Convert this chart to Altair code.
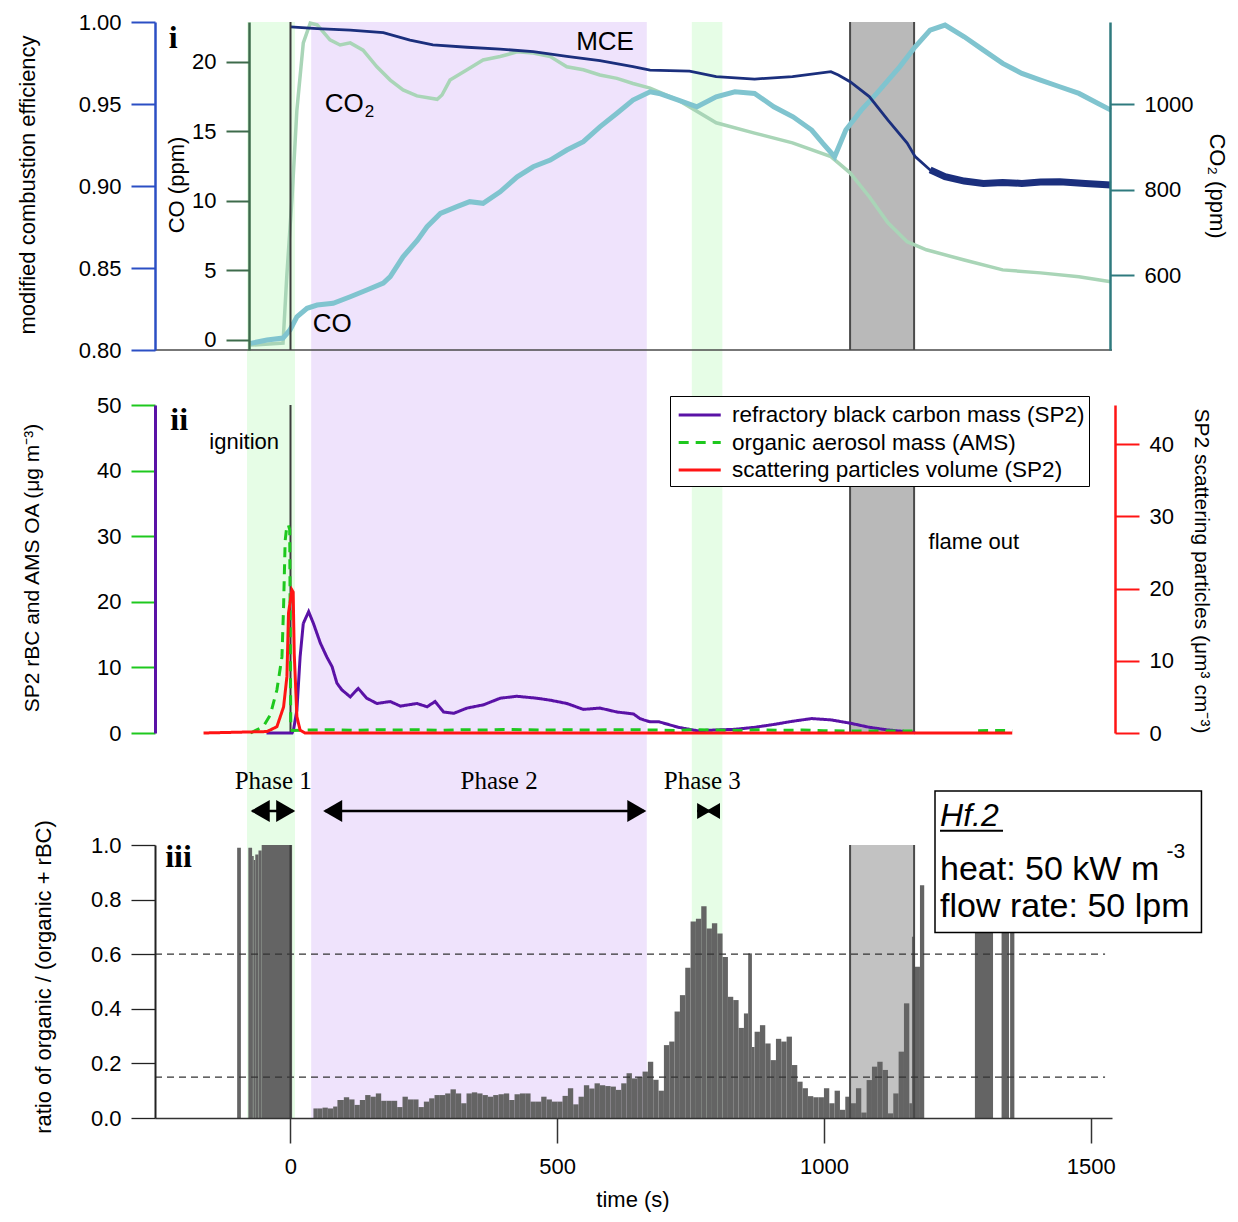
import altair as alt
import pandas as pd

SANS = "Liberation Sans"
SERIF = "Liberation Serif"

# ---------------- data ----------------
T_DOMAIN = [-254, 1540]          # time axis extent (s)
X_TICKS = [0, 500, 1000, 1500]

# panel i : modified combustion efficiency
MCE = [(0, 0.997), (50, 0.996), (112, 0.995), (174, 0.9935), (224, 0.989), (267, 0.986),
       (331, 0.9846), (393, 0.9834), (455, 0.982), (518, 0.979), (580, 0.9764), (642, 0.9728),
       (674, 0.9707), (748, 0.9701), (798, 0.9667), (870, 0.9652), (941, 0.9667), (1013, 0.9697),
       (1027, 0.9677), (1049, 0.9636), (1085, 0.9545), (1120, 0.9402), (1156, 0.9262),
       (1171, 0.9179), (1199, 0.9098), (1227, 0.9057), (1263, 0.9030), (1299, 0.9016),
       (1335, 0.9022), (1371, 0.9016), (1406, 0.9024), (1442, 0.9026), (1490, 0.9015), (1538, 0.9006)]

# panel i : CO2 (ppm, right axis)
CO2 = [(-75, 436), (-14, 441), (-7, 596), (3, 783), (12, 986), (24, 1143), (37, 1189), (50, 1185),
       (74, 1150), (93, 1138), (112, 1143), (136, 1126), (162, 1087), (187, 1056), (211, 1033),
       (237, 1019), (275, 1011), (284, 1021), (299, 1056), (331, 1080), (361, 1103), (393, 1111),
       (425, 1122), (455, 1119), (487, 1111), (518, 1087), (549, 1080), (580, 1068), (612, 1060),
       (642, 1048), (674, 1037), (727, 1009), (798, 956), (870, 932), (941, 909), (1013, 877),
       (1049, 839), (1085, 783), (1120, 722), (1156, 678), (1192, 659), (1263, 635), (1335, 612),
       (1406, 605), (1478, 596), (1538, 584)]

# panel i : CO (ppm, inner axis)
CO = [(-75, -0.24), (-44, 0.0), (-14, 0.14), (-1, 0.72), (12, 1.67), (31, 2.28), (50, 2.51),
      (80, 2.64), (112, 3.11), (143, 3.59), (174, 4.09), (187, 4.55), (211, 5.98), (238, 7.18),
      (256, 8.14), (281, 9.10), (312, 9.58), (336, 9.94), (361, 9.82), (393, 10.65), (425, 11.73),
      (455, 12.45), (487, 12.93), (518, 13.65), (549, 14.25), (580, 15.32), (612, 16.29),
      (642, 17.24), (674, 17.84), (691, 17.72), (727, 17.24), (762, 16.76), (798, 17.48),
      (833, 17.84), (870, 17.72), (906, 16.76), (942, 16.04), (977, 15.09), (998, 14.13),
      (1020, 13.17), (1041, 15.09), (1070, 16.52), (1099, 17.72), (1142, 19.63), (1171, 21.07),
      (1199, 22.27), (1227, 22.63), (1263, 21.79), (1299, 20.83), (1335, 19.88), (1371, 19.16),
      (1406, 18.68), (1442, 18.20), (1478, 17.72), (1514, 17.0), (1538, 16.52)]

# panel ii : refractory black carbon (ug m-3)
RBC = [(-45, 0), (3, 0), (5.6, 0.46), (12, 3.5), (18, 11.6), (24, 16.7), (34, 18.5), (43, 16.7),
       (56, 13.7), (68, 11.6), (78, 10.1), (87, 7.6), (96, 6.6), (112, 5.5), (127, 6.8), (143, 5.3),
       (162, 4.5), (187, 4.8), (206, 4.1), (237, 4.5), (256, 4.0), (271, 4.8), (287, 3.2),
       (306, 3.0), (331, 3.8), (362, 4.3), (393, 5.3), (424, 5.6), (462, 5.3), (487, 5.0),
       (518, 4.5), (549, 3.6), (580, 3.8), (612, 3.2), (643, 2.9), (655, 2.2), (662, 2.0),
       (674, 1.7), (691, 1.7), (727, 0.87), (762, 0.35), (798, 0.46), (833, 0.56), (870, 0.87),
       (906, 1.3), (942, 1.8), (977, 2.2), (1013, 2.0), (1049, 1.5), (1085, 0.87), (1120, 0.46),
       (1156, 0.2), (1171, 0.05)]

# panel ii : organic aerosol (ug m-3), two recorded stretches
OA_1 = [(-75, 0.0), (-51, 0.96), (-38, 2.74), (-25.5, 6.55), (-16, 11.6), (-13, 19.2), (-10, 29.3),
        (-6.7, 31.7), (-4, 31.7), (-1.5, 31.0), (0.5, 1.0), (3, 0.4), (40, 0.45), (80, 0.5),
        (120, 0.4), (160, 0.5), (200, 0.45), (240, 0.5), (280, 0.4), (320, 0.5), (360, 0.45),
        (400, 0.55), (440, 0.5), (480, 0.45), (520, 0.5), (560, 0.45), (600, 0.5), (640, 0.5),
        (680, 0.45), (720, 0.4), (760, 0.5), (800, 0.45), (840, 0.4), (880, 0.5), (920, 0.4),
        (960, 0.45), (1000, 0.35), (1040, 0.3), (1080, 0.3), (1120, 0.3), (1170, 0.3)]
OA_2 = [(1289, 0.35), (1320, 0.4), (1353, 0.35)]

# panel ii : scattering particle volume (um3 cm-3, right axis)
SCAT = [(-163, 0.0), (-44, 0.2), (-25.5, 0.87), (-13, 3.6), (-6.7, 7.8), (-3.7, 16.6), (2.6, 19.8),
        (5, 19.5), (7, 11.0), (12, 2.25), (18, 0.4), (27, 0.0), (1353, 0.0)]

# panel iii : ratio organic / (organic + rBC)   (start s, end s, ratio)
BARS = [(-100, -93, 0.99), (-79, -72, 0.99), (-72, -69, 0.96), (-69, -66, 0.945), (-66, -60, 0.965),
        (-60, -54, 0.98), (-54, 3, 1.0),
        (43, 50, 0.035), (50, 60, 0.035), (60, 70, 0.038), (70, 80, 0.035), (80, 88, 0.042),
        (88, 100, 0.066), (100, 110, 0.076), (110, 120, 0.068), (120, 130, 0.048), (130, 140, 0.066),
        (140, 150, 0.084), (150, 160, 0.078), (160, 170, 0.09), (170, 180, 0.063), (180, 190, 0.063),
        (190, 200, 0.063), (200, 210, 0.04), (210, 220, 0.078), (220, 230, 0.068), (230, 240, 0.068),
        (240, 250, 0.04), (250, 260, 0.06), (260, 270, 0.072), (270, 280, 0.084), (280, 290, 0.084),
        (290, 300, 0.09), (300, 310, 0.105), (310, 320, 0.09), (320, 330, 0.054), (330, 340, 0.09),
        (340, 350, 0.094), (350, 360, 0.09), (360, 370, 0.084), (370, 380, 0.078), (380, 390, 0.084),
        (390, 400, 0.087), (400, 410, 0.09), (410, 420, 0.066), (420, 430, 0.087), (430, 440, 0.09),
        (440, 450, 0.09), (450, 460, 0.06), (460, 470, 0.06), (470, 480, 0.078), (480, 490, 0.068),
        (490, 500, 0.06), (500, 510, 0.06), (510, 520, 0.081), (520, 530, 0.109), (530, 540, 0.05),
        (540, 550, 0.078), (550, 560, 0.12), (560, 570, 0.108), (570, 580, 0.127), (580, 590, 0.12),
        (590, 600, 0.117), (600, 610, 0.115), (610, 620, 0.103), (620, 630, 0.127), (630, 640, 0.164),
        (640, 650, 0.145), (650, 660, 0.15), (660, 670, 0.17), (670, 680, 0.206), (680, 690, 0.14),
        (690, 700, 0.10), (700, 710, 0.267), (710, 720, 0.28), (720, 730, 0.39), (730, 740, 0.45),
        (740, 750, 0.55), (750, 760, 0.72), (760, 770, 0.73), (770, 780, 0.776), (780, 790, 0.694),
        (790, 800, 0.713), (800, 810, 0.676), (810, 820, 0.59), (820, 830, 0.444), (830, 840, 0.432),
        (840, 850, 0.33), (850, 858, 0.383), (858, 865, 0.603), (865, 870, 0.26), (870, 880, 0.316),
        (880, 890, 0.34), (890, 900, 0.273), (900, 910, 0.212), (910, 920, 0.29), (920, 930, 0.28),
        (930, 940, 0.298), (940, 950, 0.194), (950, 960, 0.133), (960, 970, 0.109), (970, 980, 0.08),
        (980, 990, 0.076), (990, 1000, 0.076), (1000, 1010, 0.109), (1010, 1020, 0.054),
        (1020, 1030, 0.1), (1030, 1040, 0.03), (1040, 1050, 0.078), (1050, 1060, 0.054),
        (1060, 1070, 0.109), (1070, 1080, 0.02), (1080, 1090, 0.139), (1090, 1100, 0.188),
        (1100, 1110, 0.206), (1110, 1120, 0.176), (1120, 1130, 0.017), (1130, 1140, 0.09),
        (1140, 1150, 0.243), (1150, 1160, 0.42), (1160, 1165, 0.054), (1165, 1170, 0.664),
        (1170, 1180, 0.554), (1180, 1188, 0.853),
        (1283, 1317, 1.0), (1333, 1347, 1.0), (1349, 1357, 1.0)]
REF_LINES = [0.6, 0.15]

# shaded periods (s)
GREEN_BANDS = [(-81.5, 8.5), (752.3, 809.6)]
PURPLE_BANDS = [(38.8, 667.9)]
FLAME_OUT = (1049, 1169)
IGNITION = 0

LEG_NAMES = ["refractory black carbon mass (SP2)", "organic aerosol mass (AMS)",
             "scattering particles volume (SP2)"]
LEG_COLORS = ["#5a12a6", "#1ec81e", "#ff1414"]

# ---------------- scales ----------------
xs = alt.Scale(domain=T_DOMAIN, nice=False, zero=False)


def ysc(lo, hi, r0, r1):
    return alt.Scale(domain=[lo, hi], range=[r0, r1], nice=False, zero=False)


S_MCE = ysc(0.8, 1.0, 328, 0)
S_CO = ysc(-0.719, 22.853, 328, 0)
S_CO2 = ysc(424.6, 1191.8, 328, 0)
S_L2 = ysc(0, 50, 711, 383)
S_R2 = ysc(0, 45.4, 711, 383)
S_R3 = ysc(0, 1, 1096, 823)


def yaxis(orient, values, fmt, dom_color, tick_color, offset=0, dom_w=2.5, tick_w=2, tick_size=24):
    return alt.Axis(orient=orient, values=values, format=fmt, offset=offset, title=None, grid=False,
                    domainColor=dom_color, domainWidth=dom_w, tickColor=tick_color, tickWidth=tick_w,
                    tickSize=tick_size, labelFont=SANS, labelFontSize=22, labelColor="black",
                    labelPadding=10, labelFlush=False, labelOverlap=False, zindex=1)


AX_MCE = yaxis("left", [0.8, 0.85, 0.9, 0.95, 1.0], ".2f", "#2b4fc4", "#2b4fc4")
AX_CO = yaxis("left", [0, 5, 10, 15, 20], "d", "#3d6b4b", "#3d6b4b", offset=-94, tick_size=23)
AX_CO2 = yaxis("right", [600, 800, 1000], "d", "#2f7a7e", "#2f7a7e", offset=-2)
AX_L2 = yaxis("left", [0, 10, 20, 30, 40, 50], "d", "#5a12a6", "#1ec81e", dom_w=3)
AX_R2 = yaxis("right", [0, 10, 20, 30, 40], "d", "#ff1414", "#ff1414", offset=3)
AX_R3 = yaxis("left", [0, 0.2, 0.4, 0.6, 0.8, 1.0], ".1f", "#222222", "#222222", dom_w=2, tick_w=1.3)
AX_X = alt.Axis(orient="bottom", values=X_TICKS, format="d", title=None, grid=False,
                domainColor="#333333", domainWidth=1.5, tickColor="#333333", tickWidth=1.5,
                tickSize=25, labelFont=SANS, labelFontSize=22, labelColor="black", labelPadding=13,
                labelFlush=False, zindex=1)


def XQ(field):
    # every layer carries the same (shared) time axis so the merged axis is kept
    return alt.X(f"{field}:Q", scale=xs, axis=AX_X)


def YQ(field, scale, axis=None):
    return alt.Y(f"{field}:Q", scale=scale, axis=axis)


def pts(data):
    return pd.DataFrame(data, columns=["t", "v"])


layers = []

# ---- shaded phases spanning all panels ----
layers.append(alt.Chart(pd.DataFrame(GREEN_BANDS, columns=["t0", "t1"]))
              .mark_rect(color="#e6fde6").encode(x=XQ("t0"), x2="t1"))
layers.append(alt.Chart(pd.DataFrame(PURPLE_BANDS, columns=["t0", "t1"]))
              .mark_rect(color="#efe3fc").encode(x=XQ("t0"), x2="t1"))

# ---- flame-out grey bands per panel ----
for scale, lo, hi, fill in [(S_MCE, 0.8, 1.0, "#b9b9b9"), (S_L2, 0, 50, "#b9b9b9"), (S_R3, 0, 1, "#c2c2c2")]:
    gdf = pd.DataFrame({"t0": [FLAME_OUT[0]], "t1": [FLAME_OUT[1]], "lo": [lo], "hi": [hi]})
    layers.append(alt.Chart(gdf).mark_rect(color=fill).encode(
        x=XQ("t0"), x2="t1", y=YQ("lo", scale), y2="hi"))

# ---- panel iii bars ----
bdf = pd.DataFrame(BARS, columns=["t0", "t1", "r"])
layers.append(alt.Chart(bdf).mark_rect(color="#646464").encode(
    x=XQ("t0"), x2="t1", y=YQ("r", S_R3, AX_R3), y2=alt.datum(0)))

# grey band edges
for scale, lo, hi in [(S_MCE, 0.8, 1.0), (S_L2, 0, 50), (S_R3, 0, 1)]:
    edf = pd.DataFrame({"t": list(FLAME_OUT), "lo": [lo, lo], "hi": [hi, hi]})
    layers.append(alt.Chart(edf).mark_rule(color="#4a4a4a", strokeWidth=2).encode(
        x=XQ("t"), y=YQ("lo", scale), y2="hi"))

# dashed reference lines in panel iii
rdf = pd.DataFrame({"r": REF_LINES, "t0": [T_DOMAIN[0]] * 2, "t1": [1527, 1527]})
layers.append(alt.Chart(rdf).mark_rule(color="#333333", strokeWidth=1.2, strokeDash=[7, 5]).encode(
    x=XQ("t0"), x2="t1", y=YQ("r", S_R3)))

# ---- panel i lines ----
layers.append(alt.Chart(pts(CO2)).mark_line(color="#a9d5b7", strokeWidth=3.5).encode(
    x=XQ("t"), y=YQ("v", S_CO2, AX_CO2)))
layers.append(alt.Chart(pts(CO)).mark_line(color="#80c4cf", strokeWidth=5).encode(
    x=XQ("t"), y=YQ("v", S_CO, AX_CO)))
layers.append(alt.Chart(pts(MCE)).mark_line(color="#1b2f7d", strokeWidth=2.8).encode(
    x=XQ("t"), y=YQ("v", S_MCE, AX_MCE)))
layers.append(alt.Chart(pts([p for p in MCE if p[0] >= 1199])).mark_line(color="#1b2f7d", strokeWidth=7).encode(
    x=XQ("t"), y=YQ("v", S_MCE)))

# panel i bottom frame line
layers.append(alt.Chart(pd.DataFrame({"t0": [T_DOMAIN[0]], "t1": [T_DOMAIN[1]], "v": [0.8]}))
              .mark_rule(color="#4a4a4a", strokeWidth=1.5).encode(x=XQ("t0"), x2="t1", y=YQ("v", S_MCE)))

# ignition lines
for scale, lo, hi in [(S_MCE, 0.8, 1.0), (S_L2, 0, 50), (S_R3, 0, 1)]:
    idf = pd.DataFrame({"t": [IGNITION], "lo": [lo], "hi": [hi]})
    layers.append(alt.Chart(idf).mark_rule(color="#3c3c3c", strokeWidth=2).encode(
        x=XQ("t"), y=YQ("lo", scale), y2="hi"))

# ---- panel ii lines with legend ----
cscale = alt.Scale(domain=LEG_NAMES, range=LEG_COLORS)
dscale = alt.Scale(domain=LEG_NAMES, range=[[1, 0], [10, 7], [1, 0]])
LEG = alt.Legend(orient="none", legendX=515, legendY=374, title=None, fillColor="white",
                 strokeColor="black", padding=4, labelFont=SANS, labelFontSize=22.5, labelColor="black",
                 labelOffset=28, symbolType="M-0.78,0L2.4,0", symbolSize=700, symbolStrokeWidth=3,
                 rowPadding=0.5, labelLimit=600, zindex=1)


def series(data, name, scale, axis=None):
    df = pts(data)
    df["series"] = name
    return alt.Chart(df).mark_line(strokeWidth=3).encode(
        x=XQ("t"), y=YQ("v", scale, axis),
        color=alt.Color("series:N", scale=cscale, legend=LEG),
        strokeDash=alt.StrokeDash("series:N", scale=dscale, legend=LEG))


layers.append(series(RBC, LEG_NAMES[0], S_L2, AX_L2))
oa_df = pd.concat([pts(OA_1).assign(seg="a"), pts(OA_2).assign(seg="b")], ignore_index=True)
oa_df["series"] = LEG_NAMES[1]
layers.append(alt.Chart(oa_df).mark_line(strokeWidth=3).encode(
    x=XQ("t"), y=YQ("v", S_L2), detail="seg:N",
    color=alt.Color("series:N", scale=cscale, legend=LEG),
    strokeDash=alt.StrokeDash("series:N", scale=dscale, legend=LEG)))
layers.append(series(SCAT, LEG_NAMES[2], S_R2, AX_R2))


# ---- text annotations (data coordinates) ----
def label(rows, scale, **kw):
    df = pd.DataFrame(rows, columns=["t", "v", "label"])
    base = dict(align="center", baseline="middle", color="black")
    base.update(kw)
    return alt.Chart(df).mark_text(**base).encode(x=XQ("t"), y=YQ("v", scale), text="label:N")


layers.append(label([(-219.8, 0.9905, "i")], S_MCE, font=SERIF, fontSize=32, fontWeight="bold"))
layers.append(label([(-208.6, 47.7, "ii")], S_L2, font=SERIF, fontSize=32, fontWeight="bold"))
layers.append(label([(-210, 0.956, "iii")], S_R3, font=SERIF, fontSize=32, fontWeight="bold"))
layers.append(label([(589.7, 0.9878, "MCE"), (100.6, 0.950, "CO"), (78.1, 0.8159, "CO")], S_MCE,
                    font=SANS, fontSize=26))
layers.append(label([(148, 0.9451, "2")], S_MCE, font=SANS, fontSize=17))
layers.append(label([(-86.8, 44.4, "ignition"), (1281, 29.1, "flame out")], S_L2, font=SANS, fontSize=22))
layers.append(label([(-32.4, 1.2051, "Phase 1"), (391.1, 1.2051, "Phase 2"), (771.9, 1.2051, "Phase 3")],
                    S_R3, font=SERIF, fontSize=25, baseline="alphabetic"))

# phase arrows
adf = pd.DataFrame({"t0": [-71.8, 65, 762], "t1": [5.1, 662.8, 797.7], "v": [1.1245] * 3})
layers.append(alt.Chart(adf).mark_rule(color="black", strokeWidth=2.5).encode(
    x=XQ("t0"), x2="t1", y=YQ("v", S_R3)))
hdf = pd.DataFrame({"t": [-56.8, -9, 79.1, 649.2, 775.3, 792.2],
                    "v": [1.1245] * 6,
                    "shape": ["triangle-left", "triangle-right", "triangle-left", "triangle-right",
                              "triangle-right", "triangle-left"],
                    "size": [484, 484, 484, 484, 256, 256]})
layers.append(alt.Chart(hdf).mark_point(filled=True, color="black", opacity=1, strokeWidth=0).encode(
    x=XQ("t"), y=YQ("v", S_R3), shape=alt.Shape("shape:N", scale=None), size=alt.Size("size:Q", scale=None)))

# info box
box = pd.DataFrame({"t0": [1208.2], "t1": [1707.7], "v0": [0.6795], "v1": [1.1978]})
layers.append(alt.Chart(box).mark_rect(fill="white", stroke="black", strokeWidth=1.5).encode(
    x=XQ("t0"), x2="t1", y=YQ("v0", S_R3), y2="v1"))
layers.append(label([(1217.6, 1.0678, "Hf.2")], S_R3, font=SANS, fontSize=32, fontStyle="italic",
                    align="left", baseline="alphabetic"))
layers.append(alt.Chart(pd.DataFrame({"t0": [1217.6], "t1": [1335.7], "v": [1.0524]}))
              .mark_rule(color="black", strokeWidth=2).encode(x=XQ("t0"), x2="t1", y=YQ("v", S_R3)))
layers.append(label([(1217.6, 0.8718, "heat: 50 kW m"), (1217.6, 0.7363, "flow rate: 50 lpm")], S_R3,
                    font=SANS, fontSize=34, align="left", baseline="alphabetic"))
layers.append(label([(1642.4, 0.9524, "-3")], S_R3, font=SANS, fontSize=21, align="left",
                    baseline="alphabetic"))


# ---- axis titles (placed beside the axes) ----
def title(text, px, py, angle, size=22):
    return alt.Chart(pd.DataFrame({"label": [text]})).mark_text(
        font=SANS, fontSize=size, angle=angle, align="center", baseline="middle", color="black"
    ).encode(x=alt.value(px), y=alt.value(py), text="label:N")


layers.append(title("modified combustion efficiency", -127, 163, 270))
layers.append(title("CO (ppm)", 22, 163, 270))
layers.append(title("CO\u2082 (ppm)", 1062, 164, 90))
layers.append(title("SP2 rBC and AMS OA (\u03bcg m\u207b\u00b3)", -122, 546, 270, 21))
layers.append(title("SP2 scattering particles (\u03bcm\u00b3 cm\u207b\u00b3)", 1046, 549, 90, 21))
layers.append(title("ratio of organic / (organic + rBC)", -111, 955, 270))
layers.append(title("time (s)", 478, 1178, 0))

chart = (
    alt.layer(*layers)
    .resolve_scale(y="independent")
    .resolve_axis(y="independent")
    .properties(width=957, height=1096,
                autosize=alt.AutoSizeParams(type="none"),
                padding={"left": 147, "top": 14, "right": 118, "bottom": 94})
    .configure_view(stroke=None)
)

chart.save("out.html", embed_options={"renderer": "svg", "actions": False})
